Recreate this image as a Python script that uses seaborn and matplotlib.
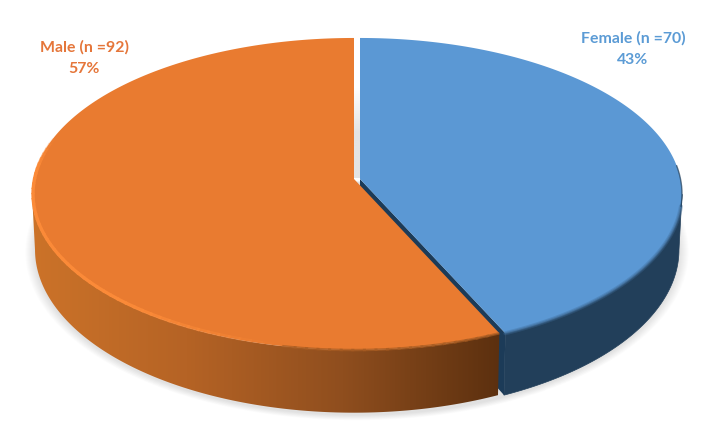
import numpy as np
import seaborn as sns
import matplotlib
matplotlib.use("Agg")
import matplotlib.pyplot as plt
from matplotlib.patches import Polygon

sns.set_theme(style="white")
plt.rcParams["font.family"] = ["Lato", "DejaVu Sans"]

# -------------------------------
# DATA
# -------------------------------
groups = ["Female", "Male"]
counts = [70, 92]
label_colors = ["#5B9BD5", "#E5763A"]

# -------------------------------
# COLOURS
# -------------------------------
blue_top, orange_top = sns.color_palette(["#5B98D4", "#E97B30"])
blue_side = "#223F5A"
orange_side = sns.blend_palette(["#CC7329", "#B56325", "#8F4E1E", "#5C300F"], n_colors=256, as_cmap=True)
gap_shade = sns.blend_palette(["#FFFFFF", "#E4E4E4", "#E4E4E4"], n_colors=64, as_cmap=True)

# projection of the disc (screen pixels)
TILT = 0.0962
TOP = dict(a=320.5, b=154.6, cy=179)
TOP_INSET = dict(a=319.5, b=153.6, cy=179)
BOTTOM = dict(a=317.5, b=161.5, cy=234)
CENTRE_X = {"Female": 360, "Male": 354}
# angle where the ellipse outline is widest, left and right
LEFT_EDGE, RIGHT_EDGE = 264.4, 95.6


def project(theta, cx, a, b, cy):
    # theta in degrees clockwise from 12 o'clock
    t = np.radians(theta)
    w = 1 + TILT * np.cos(t)
    return cx + a * np.sin(t) / w, cy - b * np.cos(t) / w


def arc(theta1, theta2, cx, level):
    th = np.linspace(theta1, theta2, 240)
    x, y = project(th, cx, **level)
    return np.column_stack([x, y])


fig, ax = plt.subplots(figsize=(7.11, 4.44), dpi=100)
fig.subplots_adjust(0, 0, 1, 1)

split = 360 * counts[0] / sum(counts)
cx_f, cx_m = CENTRE_X["Female"], CENTRE_X["Male"]

# soft shadow under the disc, front part only
for grow in range(1, 11):
    outline = arc(70, 290, (cx_f + cx_m) / 2, dict(a=320 + grow, b=161.5 + grow * 0.5, cy=236))
    ax.add_patch(Polygon(outline, closed=True, fc="#808080", ec="none", alpha=0.024, zorder=1))

# grey back wall seen through the gap
ax.imshow(np.linspace(0, 1, 64).reshape(-1, 1), extent=[cx_m, cx_f, 178, 88], cmap=gap_shade,
          aspect="auto", zorder=1.5)

# Female: side, cut face, top
side = np.vstack([arc(RIGHT_EDGE, split, cx_f, TOP), arc(split, RIGHT_EDGE, cx_f, BOTTOM)])
ax.add_patch(Polygon(side, closed=True, fc=blue_side, ec=blue_side, lw=0.5, zorder=2))
corner_t = project(split, cx_f, **TOP)
corner_b = project(split, cx_f, **BOTTOM)
face = [(cx_f, TOP["cy"]), corner_t, corner_b, (cx_f, BOTTOM["cy"])]
ax.add_patch(Polygon(face, closed=True, fc="#1C3B58", ec="none", zorder=2.1))
top_f = np.vstack([[cx_f, TOP["cy"]], arc(0, split, cx_f, TOP)])
ax.add_patch(Polygon(top_f, closed=True, fc=blue_top, ec="none", zorder=3))
rim = arc(100, split, cx_f, TOP)
ax.plot(rim[:, 0], rim[:, 1], color="#3F6C98", lw=3, alpha=0.35, zorder=3.1)
ax.plot(rim[:, 0], rim[:, 1], color="#3F6C98", lw=1.4, alpha=0.6, zorder=3.1)
rim = arc(85, 100, cx_f, TOP)
ax.plot(rim[:, 0], rim[:, 1], color=blue_side, lw=1, alpha=0.7, zorder=3.1)

# Male: side with the left-to-right shading, top
side = np.vstack([arc(split, LEFT_EDGE, cx_m, TOP), arc(LEFT_EDGE, split, cx_m, BOTTOM)])
clip = Polygon(side, closed=True, fc="none", ec="none", zorder=4)
ax.add_patch(clip)
grad = ax.imshow(np.linspace(0, 1, 256).reshape(1, -1), extent=[30, 500, 420, 170], cmap=orange_side,
                 aspect="auto", zorder=4)
grad.set_clip_path(clip)
top_m = np.vstack([[cx_m, TOP["cy"]], arc(split, 360, cx_m, TOP)])
ax.add_patch(Polygon(top_m, closed=True, fc=orange_top, ec="none", zorder=5))

# rim: bright on the left, fading into a dark soft edge on the right
steps = np.linspace(split, 285, 70)
for t1, t2 in zip(steps[:-1], steps[1:]):
    if t1 < 190:
        seg = arc(t1, t2 + 0.5, cx_m, TOP)
        ax.plot(seg[:, 0], seg[:, 1], color="#A85C22", lw=1.8, alpha=0.7, zorder=5.1,
                solid_capstyle="butt")
    else:
        seg = arc(t1, t2 + 0.5, cx_m, TOP_INSET)
        fade = min(1, (t1 - 190) / 30) * min(1, (285 - t1) / 12)
        ax.plot(seg[:, 0], seg[:, 1], color="#FB8A38", lw=2.4, alpha=fade, zorder=5.1,
                solid_capstyle="butt")

# labels
total = sum(counts)
label_xy = {"Female": (633, 49), "Male": (84, 58)}
for name, n, col in zip(groups, counts, label_colors):
    x, y = label_xy[name]
    ax.text(x, y, f"{name} (n ={n})\n{n / total * 100:.0f}%", color=col, ha="center", va="center",
            fontsize=11.4, fontweight="bold", linespacing=1.65, zorder=6)

ax.set_xlim(0, 711)
ax.set_ylim(444, 0)
ax.axis("off")
fig.savefig("out.png", dpi=100, facecolor="white")
